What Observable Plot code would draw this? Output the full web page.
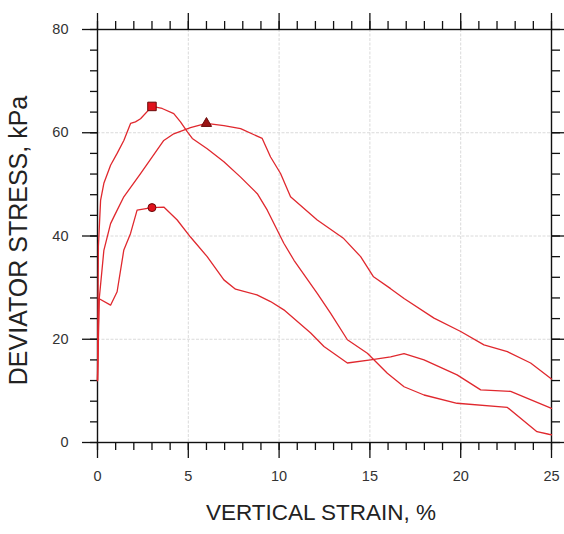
<!DOCTYPE html>
<html>
<head>
<meta charset="utf-8">
<script src="https://cdn.jsdelivr.net/npm/d3@7"></script>
<script src="https://cdn.jsdelivr.net/npm/@observablehq/plot@0.6"></script>
<style>
  html, body { margin: 0; padding: 0; background: #fff; }
  #chart svg { display: block; background: #fff; }
</style>
</head>
<body>
<div id="chart"></div>
<script>
// ---- data ----
const squareStrain = [0, 0.05, 0.17, 0.35, 0.72, 1.08, 1.45, 1.82, 2.09, 2.37, 3.0, 3.56, 4.2, 4.57, 4.94, 5.22, 6.04, 6.96, 7.88, 8.8, 9.35, 10.26, 10.82, 12.1, 12.84, 13.76, 14.86, 15.96, 16.88, 17.98, 19.8, 22.57, 24.2, 24.85, 25];
const squareStress = [12, 38, 46.9, 50.2, 53.7, 56, 58.5, 61.8, 62.1, 62.7, 65.1, 64.7, 63.7, 62.1, 60.2, 58.9, 56.9, 54.4, 51.4, 48.2, 45, 38.6, 35.3, 28.9, 25, 19.9, 17.3, 13.4, 10.8, 9.2, 7.6, 6.8, 2.1, 1.6, 1.5];

const triangleStrain = [0, 0.1, 0.35, 0.72, 0.9, 1.45, 2.37, 3.65, 4.2, 5.12, 5.99, 6.96, 7.88, 9.07, 9.53, 10.08, 10.63, 12.1, 13.56, 14.49, 15.2, 16.14, 16.88, 18.53, 20, 21.28, 22.57, 23.85, 25];
const triangleStress = [12, 28, 37.2, 42.4, 43.7, 47.6, 52.1, 58.5, 59.8, 61, 61.8, 61.4, 60.8, 58.9, 55.3, 52.1, 47.6, 43.1, 39.5, 36, 32.1, 29.8, 27.9, 24.1, 21.5, 18.9, 17.6, 15.4, 12.3];

const circleStrain = [0, 0.07, 0.72, 1.08, 1.45, 1.82, 2.18, 3.0, 3.65, 4.39, 5.12, 6.04, 6.96, 7.6, 8.78, 9.53, 10.26, 11.74, 12.47, 13.76, 15.04, 16.14, 16.88, 17.98, 19.8, 21.1, 22.75, 25];
const circleStress = [12, 27.9, 26.6, 29.2, 37.3, 40.5, 45, 45.5, 45.6, 43.1, 39.8, 36, 31.5, 29.7, 28.6, 27.3, 25.7, 21.2, 18.6, 15.4, 16, 16.6, 17.2, 16, 13.1, 10.2, 9.9, 6.6];

const peakNames  = ["square", "triangle", "circle"];
const peakStrain = [3.0, 6.0, 3.0];
const peakStress = [65.1, 61.8, 45.5];

const xMajorTicks = [0, 5, 10, 15, 20, 25];
const xMinorTicks = d3.range(0, 26, 1);
const yMajorTicks = [0, 20, 40, 60, 80];
const yMinorTicks = d3.range(0, 81, 4);
const xGridTicks = [5, 10, 15, 20];
const yGridTicks = [20, 40, 60];

const xTitle = "VERTICAL STRAIN, %";
const yTitle = "DEVIATOR STRESS, kPa";

// ---- tables built from the arrays ----
const toRows = (xs, ys, name) => xs.map((x, i) => ({strain: x, stress: ys[i], curve: name}));
const curves = [
  ...toRows(squareStrain, squareStress, "square"),
  ...toRows(triangleStrain, triangleStress, "triangle"),
  ...toRows(circleStrain, circleStress, "circle")
];
const peaks = peakNames.map((n, i) => ({curve: n, strain: peakStrain[i], stress: peakStress[i]}));

const lineColor = "#e0282e";
const axisColor = "#111";
const labelColor = "#333";

const chart = Plot.plot({
  width: 564,
  height: 534,
  marginLeft: 97,
  marginRight: 13,
  marginTop: 29,
  marginBottom: 92,
  style: {fontFamily: "'Liberation Sans', Arial, sans-serif", background: "#fff"},
  x: {domain: [0, 25]},
  y: {domain: [0, 80]},
  r: {type: "identity"},
  marks: [
    Plot.gridX(xGridTicks, {stroke: "#dadada", strokeOpacity: 1, strokeWidth: 1, strokeDasharray: "3,1.5"}),
    Plot.gridY(yGridTicks, {stroke: "#dadada", strokeOpacity: 1, strokeWidth: 1, strokeDasharray: "3,1.5"}),
    // bottom axis
    Plot.axisX(xMinorTicks, {anchor: "bottom", tickSize: 8, text: null, label: null, stroke: axisColor, strokeWidth: 1.3}),
    Plot.axisX(xMajorTicks, {anchor: "bottom", tickSize: 16, tickPadding: 12, fontSize: 14.5, label: null, stroke: axisColor, fill: labelColor, strokeWidth: 1.3, tickFormat: d => String(d)}),
    // top axis
    Plot.axisX(xMinorTicks, {anchor: "top", tickSize: 9, text: null, label: null, stroke: axisColor, strokeWidth: 1.3}),
    Plot.axisX(xMajorTicks, {anchor: "top", tickSize: 17, text: null, label: null, stroke: axisColor, strokeWidth: 1.3}),
    // left axis
    Plot.axisY(yMinorTicks, {anchor: "left", tickSize: 7, text: null, label: null, stroke: axisColor, strokeWidth: 1.3}),
    Plot.axisY(yMajorTicks, {anchor: "left", tickSize: 15, tickPadding: 14, fontSize: 14.5, label: null, stroke: axisColor, fill: labelColor, strokeWidth: 1.3, tickFormat: d => String(d)}),
    // right axis
    Plot.axisY(yMinorTicks, {anchor: "right", tickSize: 8, text: null, label: null, stroke: axisColor, strokeWidth: 1.3}),
    Plot.axisY(yMajorTicks, {anchor: "right", tickSize: 12, text: null, label: null, stroke: axisColor, strokeWidth: 1.3}),
    Plot.frame({stroke: axisColor, strokeWidth: 1.4}),
    // curves
    Plot.line(curves, {x: "strain", y: "stress", z: "curve", stroke: lineColor, strokeWidth: 1.3, strokeLinejoin: "round"}),
    // peak markers
    Plot.dot(peaks, {x: "strain", y: "stress", symbol: d => d.curve,
      r: d => d.curve === "square" ? 4.8 : d.curve === "triangle" ? 3.8 : 4,
      fill: d => d.curve === "triangle" ? "#9a1414" : "#e0121c",
      stroke: "#6a0a0a", strokeWidth: 1}),
    // axis titles
    Plot.text([xTitle], {frameAnchor: "bottom", textAnchor: "middle", text: d => d, dx: -3.5, dy: 77, fontSize: 22.5, fill: "#222"}),
    Plot.text([yTitle], {frameAnchor: "left", textAnchor: "middle", text: d => d, rotate: -90, dx: -79, dy: 4.5, fontSize: 25, fill: "#222"})
  ]
});

document.getElementById("chart").appendChild(chart);
</script>
</body>
</html>
